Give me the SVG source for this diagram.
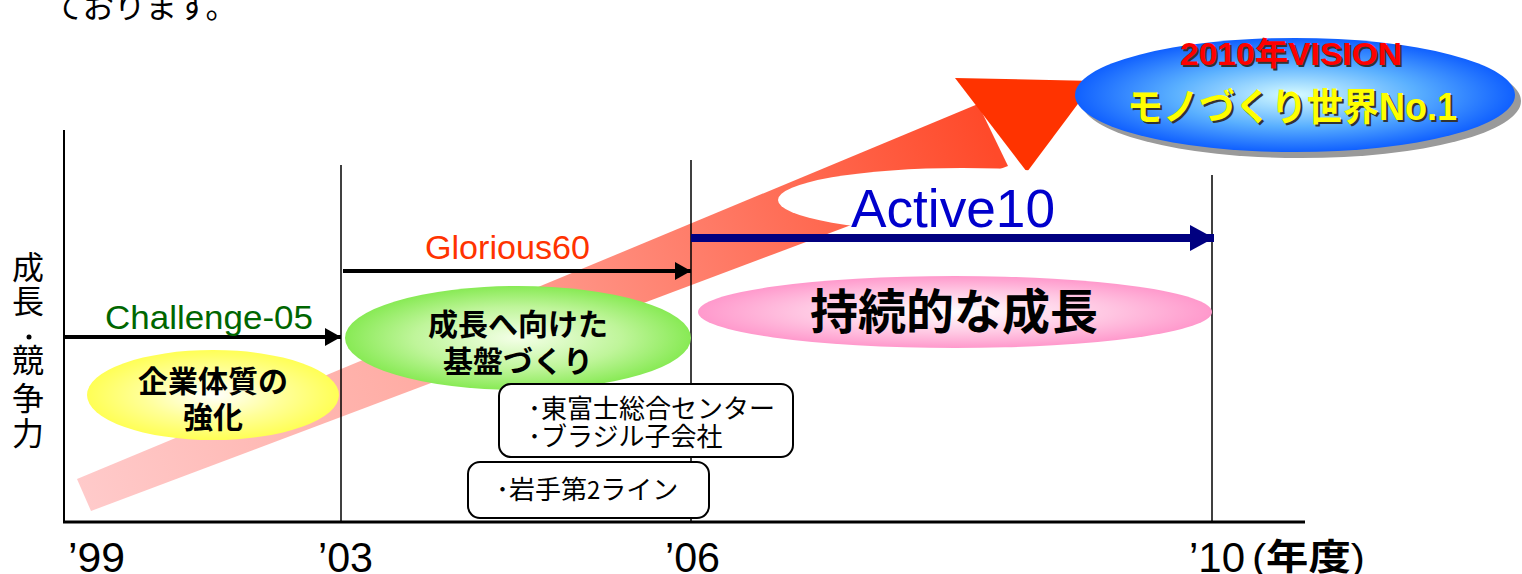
<svg xmlns="http://www.w3.org/2000/svg" width="1522" height="574" viewBox="0 0 1522 574">
<style>
.jp{font-family:"Noto Sans CJK JP","Liberation Sans",sans-serif}
.lat{font-family:"Liberation Sans","Noto Sans CJK JP",sans-serif}
.bold{font-weight:700}
.ax{stroke:#000;fill:none}
.box{fill:#fff;stroke:#000;stroke-width:2}
</style>
<defs>
<linearGradient id="band" gradientUnits="userSpaceOnUse" x1="84" y1="495" x2="990" y2="140">
<stop offset="0" stop-color="#ffcaca"/>
<stop offset="0.4" stop-color="#ffa9a0"/>
<stop offset="0.7" stop-color="#ff7a66"/>
<stop offset="1" stop-color="#ff4a2a"/>
</linearGradient>
<radialGradient id="gBlue" cx="0.5" cy="0.5" r="0.5">
<stop offset="0" stop-color="#d6fbff"/>
<stop offset="0.55" stop-color="#5ab0ff"/>
<stop offset="1" stop-color="#1060ff"/>
</radialGradient>
<radialGradient id="gPink" cx="0.5" cy="0.5" r="0.5">
<stop offset="0" stop-color="#ffffff"/>
<stop offset="0.6" stop-color="#ffc6e2"/>
<stop offset="1" stop-color="#ff99cc"/>
</radialGradient>
<radialGradient id="gGreen" cx="0.5" cy="0.5" r="0.5">
<stop offset="0" stop-color="#f4ffe8"/>
<stop offset="0.6" stop-color="#bff59a"/>
<stop offset="1" stop-color="#88ea55"/>
</radialGradient>
<radialGradient id="gYellow" cx="0.5" cy="0.5" r="0.5">
<stop offset="0" stop-color="#ffffff"/>
<stop offset="0.55" stop-color="#ffff99"/>
<stop offset="1" stop-color="#ffff55"/>
</radialGradient>
<marker id="ahBlack" markerWidth="16" markerHeight="18" refX="16" refY="9" orient="auto" markerUnits="userSpaceOnUse">
<path d="M0,0 L16,9 L0,18 Z" fill="#000"/>
</marker>
<marker id="ahNavy" markerWidth="24" markerHeight="26" refX="24" refY="13" orient="auto" markerUnits="userSpaceOnUse">
<path d="M0,0 L24,13 L0,26 Z" fill="#000080"/>
</marker>
</defs>

<rect width="1522" height="574" fill="#fff"/>

<text class="jp" x="52" y="18" font-size="32" fill="#000" textLength="185" lengthAdjust="spacingAndGlyphs">ております。</text>

<!-- big growth arrow -->
<g id="growth-arrow">
<polygon points="77,479 91,511 1008,166 978,104" fill="url(#band)"/>
<polygon points="955,78 1095,81 1027,172" fill="#ff3300"/>
</g>

<!-- axes and period lines -->
<g id="axes">
<line class="ax" x1="64" y1="130" x2="64" y2="523" stroke-width="2"/>
<line class="ax" x1="63" y1="522" x2="1305" y2="522" stroke-width="3" stroke="#333"/>
<line class="ax" x1="341" y1="165" x2="341" y2="522" stroke-width="1.5"/>
<line class="ax" x1="691" y1="160" x2="691" y2="522" stroke-width="1.5"/>
<line class="ax" x1="1212" y1="175" x2="1212" y2="522" stroke-width="1.5"/>
</g>

<!-- y-axis label -->
<g id="y-label" class="jp" font-size="32" fill="#000" text-anchor="middle">
<text x="28" y="279">成</text>
<text x="28" y="313">長</text>
<circle cx="29" cy="337" r="2.5" fill="#000"/>
<text x="28" y="372">競</text>
<text x="28" y="410">争</text>
<text x="28" y="445">力</text>
</g>

<!-- x-axis labels -->
<g id="x-labels" class="lat" font-size="42" fill="#000">
<text x="68" y="572" textLength="57" lengthAdjust="spacingAndGlyphs">’99</text>
<text x="318" y="572" textLength="55" lengthAdjust="spacingAndGlyphs">’03</text>
<text x="665" y="572" textLength="55" lengthAdjust="spacingAndGlyphs">’06</text>
<text x="1189" y="572">’10</text>
<text x="1252" y="570" font-size="36" textLength="113" lengthAdjust="spacingAndGlyphs">(<tspan class="jp bold">年度</tspan>)</text>
</g>

<!-- white ellipse behind Active10 -->
<g id="active-bg">
<ellipse cx="962" cy="200" rx="184" ry="32" fill="#fff"/>
</g>

<!-- vision ellipse -->
<g id="vision">
<ellipse cx="1301" cy="101" rx="220" ry="57" fill="#9a9a9a"/>
<ellipse cx="1295" cy="95" rx="220" ry="57" fill="url(#gBlue)"/>
<text class="lat bold" x="1182" y="67" font-size="32" fill="#333" textLength="222" lengthAdjust="spacingAndGlyphs">2010<tspan class="jp">年</tspan>VISION</text>
<text class="lat bold" x="1180" y="65" font-size="32" fill="#ff0000" textLength="222" lengthAdjust="spacingAndGlyphs">2010<tspan class="jp">年</tspan>VISION</text>
<text class="jp bold" x="1294" y="122" font-size="38" text-anchor="middle" fill="#333" textLength="330" lengthAdjust="spacingAndGlyphs">モノづくり世界<tspan class="lat">No.1</tspan></text>
<text class="jp bold" x="1292" y="120" font-size="38" text-anchor="middle" fill="#ffff00" textLength="330" lengthAdjust="spacingAndGlyphs">モノづくり世界<tspan class="lat">No.1</tspan></text>
</g>

<!-- phase ellipses -->
<g id="phase1">
<ellipse cx="213" cy="395" rx="126" ry="45" fill="url(#gYellow)"/>
<text class="jp bold" x="213" y="392" font-size="30" text-anchor="middle" fill="#000">企業体質の</text>
<text class="jp bold" x="213" y="428" font-size="30" text-anchor="middle" fill="#000">強化</text>
</g>
<g id="phase2">
<ellipse cx="518" cy="338" rx="173" ry="52" fill="url(#gGreen)"/>
<text class="jp bold" x="518" y="335" font-size="30" text-anchor="middle" fill="#000">成長へ向けた</text>
<text class="jp bold" x="518" y="372" font-size="30" text-anchor="middle" fill="#000">基盤づくり</text>
</g>
<g id="phase3">
<ellipse cx="955" cy="312" rx="257" ry="36" fill="url(#gPink)"/>
<text class="jp bold" x="954" y="329" font-size="48" text-anchor="middle" fill="#000">持続的な成長</text>
</g>

<!-- connectors (period arrows) -->
<g id="connectors">
<line x1="64" y1="337" x2="341" y2="337" stroke="#000" stroke-width="4" marker-end="url(#ahBlack)"/>
<line x1="343" y1="271" x2="691" y2="271" stroke="#000" stroke-width="4" marker-end="url(#ahBlack)"/>
<line x1="691" y1="238" x2="1214" y2="238" stroke="#000080" stroke-width="8" marker-end="url(#ahNavy)"/>
</g>

<!-- arrow labels -->
<g id="labels">
<text class="lat" x="105" y="329" font-size="34" fill="#006600" textLength="208" lengthAdjust="spacingAndGlyphs">Challenge-05</text>
<text class="lat" x="425" y="259" font-size="34" fill="#ff3300" textLength="165" lengthAdjust="spacingAndGlyphs">Glorious60</text>
<text class="lat" x="851" y="227" font-size="54" fill="#0000cc" textLength="204" lengthAdjust="spacingAndGlyphs">Active10</text>
</g>

<!-- notes boxes -->
<g id="note1">
<rect class="box" x="499" y="384" width="294" height="73" rx="12"/>
<text class="jp" x="528" y="418" font-size="26" fill="#000">･東富士総合センター</text>
<text class="jp" x="528" y="446" font-size="26" fill="#000">･ブラジル子会社</text>
</g>
<g id="note2">
<rect class="box" x="468" y="462" width="241" height="56" rx="12"/>
<text class="jp" x="496" y="499" font-size="26" fill="#000">･岩手第<tspan font-size="24">2</tspan>ライン</text>
</g>
</svg>
